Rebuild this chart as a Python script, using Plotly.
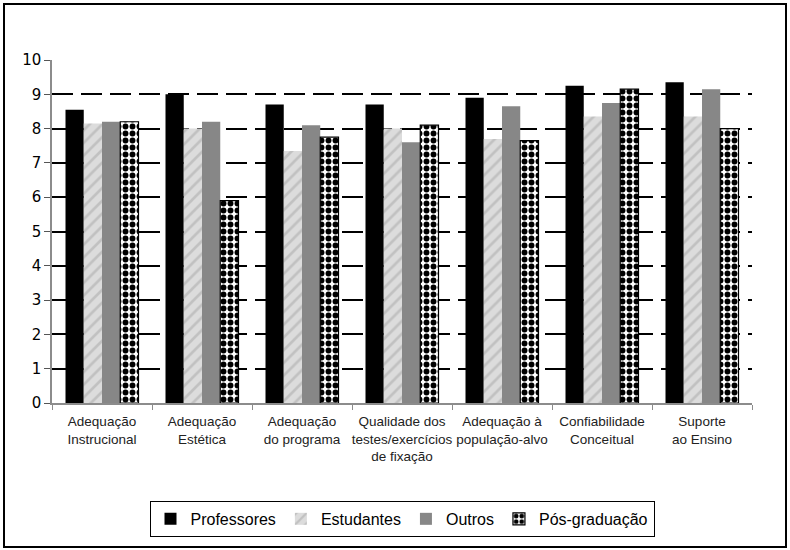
import plotly.graph_objects as go

categories = [
    "Adequação<br>Instrucional",
    "Adequação<br>Estética",
    "Adequação<br>do programa",
    "Qualidade dos<br>testes/exercícios<br>de fixação",
    "Adequação à<br>população-alvo",
    "Confiabilidade<br>Conceitual",
    "Suporte<br>ao Ensino",
]
professores = [8.55, 9.0, 8.7, 8.7, 8.9, 9.25, 9.35]
estudantes = [8.15, 8.0, 7.35, 8.0, 7.7, 8.35, 8.35]
outros = [8.2, 8.2, 8.1, 7.6, 8.65, 8.75, 9.15]
pos_graduacao = [8.2, 5.9, 7.75, 8.1, 7.65, 9.15, 8.0]
y_ticks = list(range(0, 11))

fig = go.Figure()
fig.add_trace(go.Bar(name="Professores", x=categories, y=professores,
                     marker=dict(color="#000000", line=dict(width=0))))
fig.add_trace(go.Bar(name="Estudantes", x=categories, y=estudantes,
                     marker=dict(color="#d6d6d6", line=dict(width=0),
                                 pattern=dict(shape="/", fgcolor="#a6a6a6", bgcolor="#dcdcdc",
                                              size=9, solidity=0.3))))
fig.add_trace(go.Bar(name="Outros", x=categories, y=outros,
                     marker=dict(color="#878787", line=dict(width=0))))
fig.add_trace(go.Bar(name="Pós-graduação", x=categories, y=pos_graduacao,
                     marker=dict(color="#ffffff", line=dict(width=1.2, color="#000000"),
                                 pattern=dict(shape=".", fgcolor="#000000", bgcolor="#ffffff",
                                              size=7, solidity=0.55, fillmode="replace"))))

fig.update_layout(
    width=790, height=550,
    margin=dict(l=52, r=38, t=60, b=147, autoexpand=False),
    paper_bgcolor="white", plot_bgcolor="white",
    barmode="group", bargap=0.27, bargroupgap=0,
    showlegend=True,
    legend=dict(orientation="h", x=0.5, xanchor="center", y=-0.338, yanchor="middle",
                font=dict(family="Liberation Sans, Arial", size=16, color="#000000"),
                bordercolor="#000000", borderwidth=1, bgcolor="white",
                itemwidth=30, tracegroupgap=0),
    xaxis=dict(showline=True, linecolor="#8c8c8c", linewidth=1.5,
               ticks="outside", tickson="boundaries", ticklen=5, tickcolor="#8c8c8c",
               tickangle=0, automargin=False, ticklabelstandoff=5,
               tickfont=dict(family="Liberation Sans, Arial", size=13.5, color="#222222"),
               showgrid=False),
    yaxis=dict(range=[0, 10], tickvals=y_ticks, showline=True, linecolor="#8c8c8c", linewidth=1.5,
               ticks="outside", ticklen=6, tickcolor="#555555", automargin=False,
               tickfont=dict(family="DejaVu Sans, Verdana", size=15, color="#000000"),
               showgrid=True, gridcolor="#000000", gridwidth=2, griddash="21px,8px",
               zeroline=False),
    shapes=[dict(type="rect", xref="paper", yref="paper",
                 x0=(4 - 52) / 700, x1=(786 - 52) / 700,
                 y0=(403 - 547) / 343, y1=(403 - 4) / 343,
                 line=dict(color="#000000", width=2), layer="below")],
)

fig.write_html("out.html", config={"displayModeBar": False},
               post_script="document.body.style.margin='0';document.body.style.overflow='hidden';")
